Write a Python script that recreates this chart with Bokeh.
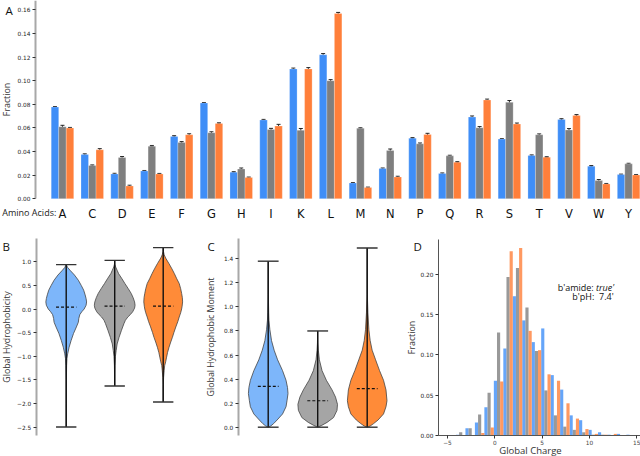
from bokeh.plotting import figure
from bokeh.layouts import column, row
from bokeh.models import ColumnDataSource, Label, FixedTicker, Whisker, TeeHead, Range1d, NumeralTickFormatter
from bokeh.embed import file_html
from bokeh.resources import INLINE

# --- panel A: amino acid fractions ---
amino = list("ACDEFGHIKLMNPQRSTVWY")
frac_blue = [0.0777, 0.0374, 0.0210, 0.0235, 0.0528, 0.0811, 0.0224, 0.0667, 0.1100, 0.1220,
             0.0133, 0.0255, 0.0513, 0.0213, 0.0692, 0.0505, 0.0366, 0.0672, 0.0275, 0.0204]
frac_gray = [0.0610, 0.0281, 0.0349, 0.0445, 0.0477, 0.0559, 0.0252, 0.0587, 0.0580, 0.1000,
             0.0596, 0.0409, 0.0465, 0.0363, 0.0601, 0.0817, 0.0542, 0.0582, 0.0153, 0.0295]
frac_orange = [0.0599, 0.0414, 0.0108, 0.0210, 0.0542, 0.0638, 0.0179, 0.0616, 0.1100, 0.1570,
               0.0094, 0.0184, 0.0545, 0.0309, 0.0837, 0.0633, 0.0352, 0.0706, 0.0125, 0.0201]
err_blue = [0.0004, 0.0006, 0.0005, 0.0004, 0.0006, 0.0004, 0.0005, 0.0005, 0.0007, 0.0010,
            0.0004, 0.0005, 0.0005, 0.0005, 0.0009, 0.0004, 0.0005, 0.0006, 0.0006, 0.0004]
err_gray = [0.0012, 0.0005, 0.0008, 0.0006, 0.0007, 0.0008, 0.0008, 0.0009, 0.0015, 0.0009,
            0.0005, 0.0012, 0.0007, 0.0005, 0.0010, 0.0015, 0.0007, 0.0012, 0.0009, 0.0005]
err_orange = [0.0005, 0.0010, 0.0006, 0.0004, 0.0008, 0.0005, 0.0004, 0.0014, 0.0011, 0.0009,
              0.0004, 0.0006, 0.0009, 0.0005, 0.0007, 0.0008, 0.0004, 0.0007, 0.0004, 0.0004]
frac_ticks = [0.00, 0.02, 0.04, 0.06, 0.08, 0.10, 0.12, 0.14, 0.16]

# --- panels B and C: violins (y level, half width) ---
hyd_blue_y = [0.94, 0.88, 0.82, 0.72, 0.61, 0.50, 0.40, 0.30, 0.22, 0.15, 0.08, 0.00, -0.06, -0.12,
              -0.20, -0.28, -0.38, -0.52, -0.67, -0.81, -0.95, -1.05, -1.20, -1.50, -2.00, -2.50]
hyd_blue_w = [0.0, 0.03, 0.08, 0.17, 0.25, 0.31, 0.36, 0.39, 0.41, 0.42, 0.41, 0.37, 0.32, 0.28,
              0.26, 0.25, 0.21, 0.15, 0.10, 0.06, 0.03, 0.015, 0.008, 0.004, 0.002, 0.0]
hyd_gray_y = [1.03, 0.95, 0.89, 0.82, 0.75, 0.64, 0.54, 0.43, 0.33, 0.24, 0.15, 0.08, 0.02, -0.06,
              -0.12, -0.17, -0.24, -0.31, -0.45, -0.60, -0.74, -0.88, -1.00, -1.20, -1.63]
hyd_gray_w = [0.0, 0.005, 0.02, 0.05, 0.08, 0.15, 0.21, 0.28, 0.34, 0.38, 0.41, 0.42, 0.41, 0.37,
              0.32, 0.27, 0.22, 0.19, 0.14, 0.09, 0.05, 0.03, 0.015, 0.006, 0.0]
hyd_orange_y = [1.30, 1.22, 1.15, 1.08, 0.96, 0.85, 0.75, 0.64, 0.54, 0.43, 0.33, 0.24, 0.15, 0.06,
                0.00, -0.08, -0.17, -0.27, -0.38, -0.50, -0.60, -0.70, -0.81, -0.92, -1.02, -1.12,
                -1.20, -1.30, -1.45, -1.60, -1.97]
hyd_orange_w = [0.0, 0.005, 0.02, 0.05, 0.12, 0.18, 0.23, 0.28, 0.33, 0.36, 0.38, 0.395, 0.40, 0.39,
                0.38, 0.36, 0.33, 0.30, 0.26, 0.22, 0.19, 0.155, 0.12, 0.09, 0.07, 0.05,
                0.03, 0.02, 0.008, 0.003, 0.0]
hyd_caps = [(0.94, -2.50), (1.03, -1.63), (1.30, -1.97)]
hyd_median = [0.04, 0.06, 0.06]

mom_blue_y = [1.38, 1.10, 0.95, 0.89, 0.81, 0.72, 0.64, 0.56, 0.47, 0.39, 0.33, 0.28, 0.22, 0.17,
              0.11, 0.06, 0.03, 0.01, 0.0]
mom_blue_w = [0.0, 0.003, 0.01, 0.015, 0.034, 0.067, 0.12, 0.19, 0.29, 0.36, 0.39, 0.40, 0.38, 0.36,
              0.29, 0.18, 0.11, 0.05, 0.0]
mom_gray_y = [0.80, 0.70, 0.64, 0.56, 0.47, 0.39, 0.31, 0.25, 0.19, 0.14, 0.08, 0.04, 0.015, 0.0]
mom_gray_w = [0.0, 0.005, 0.013, 0.034, 0.088, 0.175, 0.29, 0.36, 0.40, 0.39, 0.32, 0.19, 0.08, 0.0]
mom_orange_y = [1.49, 1.10, 0.95, 0.81, 0.72, 0.64, 0.56, 0.47, 0.39, 0.31, 0.22, 0.17, 0.11, 0.06,
                0.03, 0.01, 0.0]
mom_orange_w = [0.0, 0.003, 0.015, 0.034, 0.06, 0.10, 0.17, 0.25, 0.33, 0.38, 0.40, 0.38, 0.33, 0.22,
                0.13, 0.06, 0.0]
mom_caps = [(1.38, 0.0), (0.80, 0.0), (1.49, 0.0)]
mom_median = [0.34, 0.22, 0.32]

hyd_ticks = [-2.5, -2.0, -1.5, -1.0, -0.5, 0.0, 0.5, 1.0]
mom_ticks = [0.0, 0.2, 0.4, 0.6, 0.8, 1.0, 1.2, 1.4]

# --- panel D: global charge histogram ---
bin_left = [-4.1, -3.1, -2.1, -1.1, -0.1, 0.9, 1.9, 2.9, 3.9, 4.9, 5.9, 6.9, 7.9, 8.9, 9.9,
            10.9, 11.9, 12.9, 13.9]
hist_blue = [0.001, 0.009, 0.016, 0.035, 0.068, 0.108, 0.173, 0.143, 0.116, 0.133, 0.075, 0.057,
             0.025, 0.019, 0.007, 0.004, 0.001, 0.002, 0.001]
hist_gray = [0.004, 0.009, 0.026, 0.053, 0.128, 0.197, 0.208, 0.159, 0.105, 0.056, 0.025, 0.011,
             0.007, 0.004, 0.001, 0.001, 0.0, 0.0, 0.0]
hist_orange = [0.0, 0.0, 0.003, 0.010, 0.067, 0.229, 0.233, 0.130, 0.106, 0.076, 0.068, 0.040,
               0.021, 0.008, 0.002, 0.001, 0.002, 0.0, 0.0]
charge_ticks = [-5, 0, 5, 10, 15]
hist_ticks = [0.00, 0.05, 0.10, 0.15, 0.20]

BLUE, GRAY, ORANGE = "#3f8ef7", "#7f7f7f", "#ff7f3a"
VBLUE, VGRAY, VORANGE = "#7db6fa", "#a5a5a5", "#ff8b38"
LABEL_FONT = "Open Sans"
TICK_FONT = "DejaVu Sans"
TICK_SIZE = "5.8px"


def minus(v, fmt):
    return fmt.format(v).replace("-", "\u2212")


def new_fig(width, height, xr, yr):
    # the frame fills the whole canvas; axes sit inside it at fixed locations
    p = figure(width=width, height=height, x_range=Range1d(*xr), y_range=Range1d(*yr),
               output_backend="svg", toolbar_location=None,
               min_border_left=0, min_border_right=0, min_border_top=0, min_border_bottom=0)
    p.outline_line_color = None
    p.grid.visible = False
    p.background_fill_color = "white"
    return p


def style_y(p, at, bounds, spine="#a8a8a8", spine_w=2, standoff=5):
    ax = p.yaxis[0]
    ax.fixed_location = at
    ax.bounds = bounds
    ax.axis_line_color = spine
    ax.axis_line_width = spine_w
    ax.major_tick_line_color = "#333333"
    ax.major_tick_out = 3
    ax.major_tick_in = 0
    ax.minor_tick_line_color = None
    ax.major_label_text_font = TICK_FONT
    ax.major_label_text_font_size = TICK_SIZE
    ax.major_label_text_color = "#222222"
    ax.major_label_standoff = 2
    ax.axis_label_text_font = LABEL_FONT
    ax.axis_label_text_font_size = "8.8px"
    ax.axis_label_text_font_style = "normal"
    ax.axis_label_text_color = "#333333"
    ax.axis_label_standoff = standoff


def panel_letter(p, x, y, text):
    p.add_layout(Label(x=x, y=y, text=text, text_font=LABEL_FONT, text_font_size="11.5px",
                       text_baseline="top", text_align="left", text_color="#111111"))


# ---------------- A ----------------
top = new_fig(640, 222, (-2.08, 19.4), (-0.0202, 0.168))
style_y(top, -0.906, (0, 0.168), standoff=2)
idx = list(range(len(amino)))
bw = 0.252
for off, vals, errs, col in [(-bw, frac_blue, err_blue, BLUE), (0, frac_gray, err_gray, GRAY),
                              (bw, frac_orange, err_orange, ORANGE)]:
    xs = [i + off for i in idx]
    top.vbar(x=xs, top=vals, width=bw, fill_color=col, line_color="white", line_alpha=0.4,
             line_width=0.6)
    src = ColumnDataSource(dict(x=xs, upper=[v + e for v, e in zip(vals, errs)],
                                lower=[v - e for v, e in zip(vals, errs)]))
    top.add_layout(Whisker(base="x", upper="upper", lower="lower", source=src,
                           line_color="#222222", line_width=1,
                           upper_head=TeeHead(size=4, line_color="#222222", line_width=1),
                           lower_head=TeeHead(size=4, line_color="#222222", line_width=1)))
top.yaxis.ticker = FixedTicker(ticks=frac_ticks)
top.yaxis.formatter = NumeralTickFormatter(format="0.00")
top.yaxis.axis_label = "Fraction"
xa = top.xaxis[0]
xa.fixed_location = 0
xa.ticker = FixedTicker(ticks=idx)
xa.major_label_overrides = {i: a for i, a in zip(idx, amino)}
xa.axis_line_color = None
xa.major_tick_line_color = None
xa.major_tick_out = 0
xa.major_tick_in = 0
xa.minor_tick_line_color = None
xa.major_label_text_font = TICK_FONT
xa.major_label_text_font_size = "11.5px"
xa.major_label_text_color = "#111111"
xa.major_label_standoff = 8
top.add_layout(Label(x=-2.02, y=-0.0118, text="Amino Acids:", text_font=LABEL_FONT,
                     text_font_size="9px", text_baseline="middle", text_color="#222222"))
panel_letter(top, -1.91, 0.1655, "A")


# ---------------- B / C violins ----------------
def violin_panel(width, xr, yr, spine_x, ybounds, shapes, caps, medians, ticks, fmt,
                 ylabel, standoff):
    p = new_fig(width, 234, xr, yr)
    style_y(p, spine_x, ybounds, standoff=standoff)
    p.xaxis.visible = False
    for k, ((ys, ws, col), (hi, lo), med) in enumerate(zip(shapes, caps, medians)):
        c = k + 1
        px = [c + w for w in ws] + [c - w for w in reversed(ws)]
        py = list(ys) + list(reversed(ys))
        p.patch(px, py, fill_color=col, fill_alpha=1.0, line_color="#444444", line_width=0.8)
        p.segment(x0=[c], y0=[lo], x1=[c], y1=[hi], line_color="#111111", line_width=1.4)
        p.segment(x0=[c - 0.21, c - 0.21], y0=[hi, lo], x1=[c + 0.21, c + 0.21], y1=[hi, lo],
                  line_color="#333333", line_width=1.4)
        p.segment(x0=[c - 0.21], y0=[med], x1=[c + 0.21], y1=[med], line_color="#111111",
                  line_width=1.2, line_dash="3 2")
    p.yaxis.ticker = FixedTicker(ticks=ticks)
    p.yaxis.major_label_overrides = {t: minus(t, fmt) for t in ticks}
    p.yaxis.axis_label = ylabel
    return p


b = violin_panel(200, (-0.355, 3.769), (-3.125, 1.833), 0.38, (-2.68, 1.49),
                 [(hyd_blue_y, hyd_blue_w, VBLUE), (hyd_gray_y, hyd_gray_w, VGRAY),
                  (hyd_orange_y, hyd_orange_w, VORANGE)],
                 hyd_caps, hyd_median, hyd_ticks, "{:.1f}", "Global Hydrophobicity", 1)
panel_letter(b, -0.313, 1.49, "B")

c = violin_panel(205, (-0.368, 3.774), (-0.2436, 1.7016), 0.394, (-0.07, 1.567),
                 [(mom_blue_y, mom_blue_w, VBLUE), (mom_gray_y, mom_gray_w, VGRAY),
                  (mom_orange_y, mom_orange_w, VORANGE)],
                 mom_caps, mom_median, mom_ticks, "{:.1f}", "Global Hydrophobic Moment", 4)
panel_letter(c, -0.226, 1.567, "C")

# ---------------- D histogram ----------------
d = new_fig(235, 234, (-9.43, 15.39), (-0.0261, 0.2646))
style_y(d, -5.95, (0, 0.244), spine="#555555", spine_w=1, standoff=0)
third = 1.0 / 3.0
for off, vals, col in [(third / 2, hist_blue, BLUE), (1.5 * third, hist_gray, GRAY),
                       (2.5 * third, hist_orange, ORANGE)]:
    d.vbar(x=[l + off for l in bin_left], top=vals, width=third, fill_color=col, fill_alpha=0.8,
           line_color=None)
d.yaxis.ticker = FixedTicker(ticks=hist_ticks)
d.yaxis.formatter = NumeralTickFormatter(format="0.00")
d.yaxis.axis_label = "Fraction"
dx = d.xaxis[0]
dx.fixed_location = 0
dx.bounds = (-5.95, 15.35)
dx.ticker = FixedTicker(ticks=charge_ticks)
dx.major_label_overrides = {t: minus(t, "{:d}") for t in charge_ticks}
dx.axis_line_color = "#555555"
dx.axis_line_width = 1
dx.major_tick_line_color = "#333333"
dx.major_tick_out = 3
dx.major_tick_in = 0
dx.minor_tick_line_color = None
dx.major_label_text_font = TICK_FONT
dx.major_label_text_font_size = TICK_SIZE
dx.major_label_standoff = 2
d.add_layout(Label(x=3.77, y=-0.0186, text="Global Charge", text_font=LABEL_FONT,
                   text_font_size="9.5px", text_align="center", text_baseline="middle",
                   text_color="#333333"))
d.add_layout(Label(x=10.45, y=0.1842, text="b'amide:", text_font=LABEL_FONT, text_font_size="9px",
                   text_align="right", text_baseline="middle", text_color="#111111"))
d.add_layout(Label(x=10.7, y=0.1842, text="true'", text_font=LABEL_FONT, text_font_size="9px",
                   text_font_style="italic", text_align="left", text_baseline="middle",
                   text_color="#111111"))
d.add_layout(Label(x=12.55, y=0.1727, text="b'pH:\u00a0 7.4'", text_font=LABEL_FONT,
                   text_font_size="9px", text_align="right", text_baseline="middle",
                   text_color="#111111"))
panel_letter(d, -8.58, 0.244, "D")

layout = column(top, row(b, c, d))
open("out.html", "w").write(file_html(layout, INLINE))
